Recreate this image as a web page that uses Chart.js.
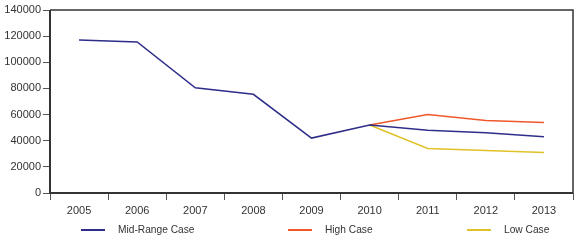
<!DOCTYPE html>
<html>
<head>
<meta charset="utf-8">
<script src="https://cdn.jsdelivr.net/npm/chart.js@4/dist/chart.umd.min.js"></script>
<style>
  body { margin: 0; background: #fff; }
  #wrap { position: relative; width: 580px; height: 240px; }
  .leg { position: absolute; top: 224px; font: 10.2px 'Liberation Sans', sans-serif; color: #333; white-space: nowrap; }
  .leg span { display: inline-block; width: 24px; height: 2px; vertical-align: middle; margin-right: 13px; }
</style>
</head>
<body>
<div id="wrap">
  <canvas id="chart" width="580" height="240"></canvas>
  <div class="leg" style="left:81px"><span style="background:#2e2e8a"></span>Mid-Range Case</div>
  <div class="leg" style="left:288px"><span style="background:#f0582a"></span>High Case</div>
  <div class="leg" style="left:467px"><span style="background:#e0c228"></span>Low Case</div>
</div>
<script>
const years = ['2005', '2006', '2007', '2008', '2009', '2010', '2011', '2012', '2013'];
const midRange = [117000, 115500, 80500, 75500, 42000, 52000, 48000, 46000, 43000];
const highCase = [null, null, null, null, null, 52000, 60000, 55500, 54000];
const lowCase = [null, null, null, null, null, 52000, 34000, 32500, 31000];
const yTicks = [0, 20000, 40000, 60000, 80000, 100000, 120000, 140000];

const textColor = '#333';
const font = { family: 'Liberation Sans', size: 11 };

// frame round the plot: heavy left/bottom axes, thin top/right
const framePlugin = {
    id: 'frame',
    afterDraw(chart) {
        const a = chart.chartArea;
        const ctx = chart.ctx;
        ctx.save();
        ctx.strokeStyle = '#333';
        ctx.lineWidth = 1.5;
        ctx.beginPath();
        ctx.moveTo(a.left, a.top);
        ctx.lineTo(a.right, a.top);
        ctx.lineTo(a.right, a.bottom);
        ctx.stroke();
        ctx.lineWidth = 2;
        ctx.beginPath();
        ctx.moveTo(a.left, a.top);
        ctx.lineTo(a.left, a.bottom);
        ctx.lineTo(a.right, a.bottom);
        ctx.stroke();
        ctx.restore();
    }
};

new Chart(document.getElementById('chart').getContext('2d'), {
    type: 'line',
    data: {
        labels: years,
        datasets: [
            { label: 'Mid-Range Case', data: midRange, borderColor: '#2e2e8a', borderWidth: 1.5, pointRadius: 0, tension: 0, fill: false },
            { label: 'High Case', data: highCase, borderColor: '#f0582a', borderWidth: 1.5, pointRadius: 0, tension: 0, fill: false },
            { label: 'Low Case', data: lowCase, borderColor: '#e0c228', borderWidth: 1.5, pointRadius: 0, tension: 0, fill: false }
        ]
    },
    options: {
        responsive: false,
        animation: false,
        layout: { padding: { top: 10, right: 7, bottom: 20, left: 0 } },
        plugins: { legend: { display: false }, tooltip: { enabled: false } },
        scales: {
            x: {
                offset: true,
                grid: { drawOnChartArea: false, drawTicks: true, tickLength: 7, color: '#555', offset: true },
                border: { display: false },
                ticks: { color: textColor, font: font, padding: 4, maxRotation: 0 },
                afterFit(scale) { scale.height = 27; }
            },
            y: {
                min: 0,
                max: 140000,
                afterBuildTicks(scale) { scale.ticks = yTicks.map(v => ({ value: v })); },
                grid: { drawOnChartArea: false, drawTicks: true, tickLength: 7, color: '#555' },
                border: { display: false },
                ticks: { color: textColor, font: font, padding: 2, callback: v => String(v) },
                afterFit(scale) { scale.width = 50; }
            }
        }
    },
    plugins: [framePlugin]
});
</script>
</body>
</html>
